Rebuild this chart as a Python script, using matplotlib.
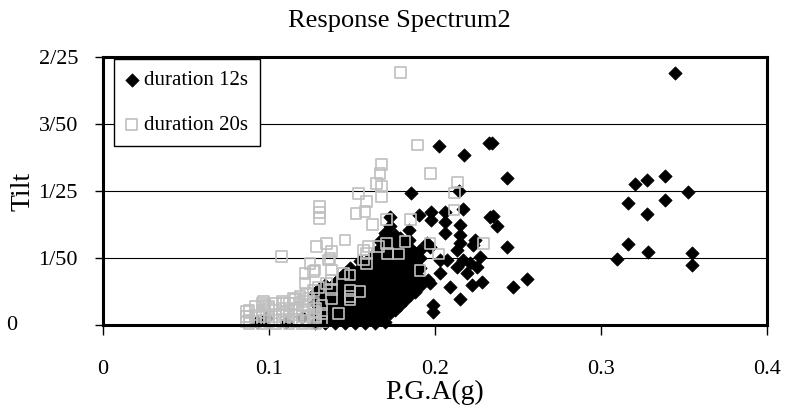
import matplotlib
matplotlib.use('Agg')
import matplotlib.pyplot as plt

plt.rcParams['font.family'] = ['Liberation Serif', 'DejaVu Serif']

# ---- duration 12s (black diamonds) ----
# isolated points at high P.G.A.
pga_12s_far = [0.3446, 0.3205, 0.3275, 0.3386, 0.3526, 0.3165, 0.3386, 0.3275,
               0.3165, 0.3285, 0.3094, 0.3546, 0.3546]
tilt_12s_far = [0.0753, 0.0421, 0.0433, 0.0446, 0.0396, 0.0365, 0.0373, 0.0331,
                0.0242, 0.0219, 0.0197, 0.0214, 0.0179]

# scattered points around 0.17 - 0.26 g
pga_12s_mid = [0.2341, 0.2436, 0.2347, 0.2375, 0.2436, 0.2556, 0.2470,
               0.2026, 0.2177, 0.2325, 0.1853, 0.2147,
               0.1729, 0.1906, 0.1974, 0.1974, 0.2060, 0.2171, 0.2331,
               0.2060, 0.2060, 0.2150, 0.2150, 0.2150, 0.1845, 0.1845, 0.1950, 0.2241,
               0.1990, 0.1990, 0.2150, 0.2281, 0.2220, 0.2090, 0.1960, 0.2030,
               0.2070, 0.2170, 0.2250, 0.2271, 0.2190,
               0.1970, 0.2130, 0.2229, 0.2130, 0.2211, 0.1970, 0.1729, 0.1760, 0.2030,
               0.0930, 0.0980, 0.1100, 0.1200]
tilt_12s_mid = [0.0542, 0.0440, 0.0326, 0.0296, 0.0234, 0.0136, 0.0113,
                0.0535, 0.0507, 0.0542, 0.0393, 0.0401,
                0.0321, 0.0328, 0.0338, 0.0312, 0.0338, 0.0345, 0.0321,
                0.0306, 0.0275, 0.0300, 0.0270, 0.0245, 0.0284, 0.0254, 0.0244, 0.0254,
                0.0060, 0.0040, 0.0077, 0.0129, 0.0119, 0.0114, 0.0134, 0.0154,
                0.0194, 0.0194, 0.0174, 0.0204, 0.0154,
                0.0234, 0.0224, 0.0239, 0.0174, 0.0184, 0.0124, 0.0295, 0.0270, 0.0194,
                0.0010, 0.0020, 0.0010, 0.0025]

# dense wedge 0.128 - 0.191 g, one tilt list per P.G.A. column
pga_12s_cols = [0.128, 0.131, 0.134, 0.137, 0.140, 0.143, 0.146, 0.149,
                0.152, 0.155, 0.158, 0.161, 0.164, 0.167, 0.170, 0.173,
                0.176, 0.179, 0.182, 0.185, 0.188, 0.191]
tilt_12s_cols = [
    [0.0005, 0.0035, 0.0065, 0.0095],
    [0.0020, 0.0050, 0.0080, 0.0110],
    [0.0005, 0.0035, 0.0065, 0.0095, 0.0120],
    [0.0020, 0.0050, 0.0080, 0.0110],
    [0.0005, 0.0035, 0.0065, 0.0095, 0.0125],
    [0.0020, 0.0050, 0.0080, 0.0110, 0.0140],
    [0.0005, 0.0035, 0.0065, 0.0095, 0.0125, 0.0155],
    [0.0020, 0.0050, 0.0080, 0.0110, 0.0140, 0.0170],
    [0.0005, 0.0035, 0.0065, 0.0095, 0.0125, 0.0155],
    [0.0020, 0.0050, 0.0080, 0.0110, 0.0140, 0.0170, 0.0190],
    [0.0005, 0.0035, 0.0065, 0.0095, 0.0125, 0.0155, 0.0185],
    [0.0020, 0.0050, 0.0080, 0.0110, 0.0140, 0.0170, 0.0200],
    [0.0005, 0.0035, 0.0065, 0.0095, 0.0125, 0.0155, 0.0185, 0.0215],
    [0.0020, 0.0050, 0.0080, 0.0110, 0.0140, 0.0170, 0.0200, 0.0230, 0.0250],
    [0.0010, 0.0035, 0.0065, 0.0095, 0.0125, 0.0155, 0.0185, 0.0215, 0.0245, 0.0275],
    [0.0035, 0.0050, 0.0080, 0.0110, 0.0140, 0.0170, 0.0200, 0.0230, 0.0260],
    [0.0045, 0.0065, 0.0095, 0.0125, 0.0155, 0.0185, 0.0215, 0.0245],
    [0.0060, 0.0080, 0.0110, 0.0140, 0.0170, 0.0200, 0.0230, 0.0260],
    [0.0075, 0.0095, 0.0125, 0.0155, 0.0185, 0.0215, 0.0240],
    [0.0090, 0.0110, 0.0140, 0.0170, 0.0200, 0.0230],
    [0.0100, 0.0125, 0.0155, 0.0185, 0.0215],
    [0.0115, 0.0140, 0.0170, 0.0200, 0.0225],
]

# ---- duration 20s (grey open squares) ----
pga_20s_sparse = [0.1793, 0.1894, 0.1974, 0.2136, 0.2117, 0.2114, 0.1709, 0.1853,
                  0.1709, 0.1819, 0.1970, 0.2291, 0.1910, 0.1779, 0.2020, 0.1715,
                  0.1679, 0.1669, 0.1649, 0.1679, 0.1538, 0.1679, 0.1588, 0.1578,
                  0.1524, 0.1625, 0.1458, 0.1598, 0.1303, 0.1303, 0.1303, 0.1076,
                  0.1287, 0.1347, 0.1377, 0.1367, 0.1247, 0.1217, 0.1277, 0.1217,
                  0.1377, 0.1377, 0.1377, 0.0966, 0.0976, 0.0996, 0.1086, 0.1146,
                  0.1187, 0.1227, 0.1417, 0.0866, 0.0866, 0.0866, 0.1588, 0.1588,
                  0.1659, 0.1357, 0.1447, 0.1488, 0.1488, 0.1548, 0.1488, 0.1267,
                  0.1267, 0.1267, 0.1146, 0.1568, 0.1568, 0.1267, 0.1347, 0.1377,
                  0.1488, 0.1106, 0.1267, 0.1297]
tilt_20s_sparse = [0.0753, 0.0537, 0.0453, 0.0427, 0.0394, 0.0343, 0.0316, 0.0316,
                   0.0244, 0.0249, 0.0244, 0.0244, 0.0162, 0.0212, 0.0212, 0.0214,
                   0.0478, 0.0453, 0.0423, 0.0413, 0.0393, 0.0383, 0.0368, 0.0338,
                   0.0333, 0.0299, 0.0254, 0.0234, 0.0353, 0.0335, 0.0318, 0.0205,
                   0.0234, 0.0244, 0.0219, 0.0199, 0.0184, 0.0154, 0.0164, 0.0124,
                   0.0164, 0.0134, 0.0105, 0.0070, 0.0060, 0.0055, 0.0065, 0.0065,
                   0.0085, 0.0095, 0.0035, 0.0040, 0.0025, 0.0010, 0.0214, 0.0184,
                   0.0234, 0.0194, 0.0154, 0.0149, 0.0104, 0.0099, 0.0075, 0.0104,
                   0.0065, 0.0040, 0.0080, 0.0194, 0.0224, 0.0160, 0.0124, 0.0080,
                   0.0085, 0.0040, 0.0020, 0.0113]

# dense grey cluster 0.088 - 0.132 g, one tilt list per P.G.A. column
pga_20s_cols = [0.088, 0.092, 0.096, 0.100, 0.104, 0.108, 0.112, 0.116,
                0.120, 0.124, 0.128, 0.132]
tilt_20s_cols = [
    [0.0005, 0.0025, 0.0045],
    [0.0010, 0.0030, 0.0055],
    [0.0005, 0.0025, 0.0045, 0.0065],
    [0.0010, 0.0030, 0.0050],
    [0.0005, 0.0025, 0.0045, 0.0065],
    [0.0010, 0.0030, 0.0050, 0.0070],
    [0.0005, 0.0025, 0.0045, 0.0065],
    [0.0010, 0.0030, 0.0050, 0.0075],
    [0.0005, 0.0025, 0.0045, 0.0070],
    [0.0010, 0.0030, 0.0055, 0.0080],
    [0.0005, 0.0025, 0.0050],
    [0.0010, 0.0035, 0.0060],
]

pga_12s = [x for x, col in zip(pga_12s_cols, tilt_12s_cols) for _ in col] + pga_12s_mid + pga_12s_far
tilt_12s = [y for col in tilt_12s_cols for y in col] + tilt_12s_mid + tilt_12s_far
pga_20s = [x for x, col in zip(pga_20s_cols, tilt_20s_cols) for _ in col] + pga_20s_sparse
tilt_20s = [y for col in tilt_20s_cols for y in col] + tilt_20s_sparse

x_ticks = [0, 0.1, 0.2, 0.3, 0.4]
x_tick_labels = ['0', '0.1', '0.2', '0.3', '0.4']
y_ticks = [0, 0.02, 0.04, 0.06, 0.08]
y_tick_labels = ['', '1/50', '1/25', '3/50', '2/25']

fig = plt.figure(figsize=(7.88, 4.13), dpi=100)
ax = fig.add_axes([103 / 788, 1 - 325 / 413, 664 / 788, 268 / 413])

grey = '#BFBFBF'
ax.scatter(pga_12s, tilt_12s, marker='D', s=46, facecolor='black',
           edgecolor='black', linewidth=0.5, clip_on=False, zorder=3,
           label='duration 12s')
ax.scatter(pga_20s, tilt_20s, marker='s', s=60, facecolor='none',
           edgecolor=grey, linewidth=1.2, clip_on=False, zorder=4,
           label='duration 20s')

ax.set_xlim(0, 0.4)
ax.set_ylim(0, 0.08)
ax.set_xticks(x_ticks)
ax.set_xticklabels(x_tick_labels, fontsize=16)
ax.set_yticks(y_ticks)
ax.set_yticklabels(y_tick_labels, fontsize=16)
ax.tick_params(axis='x', direction='out', length=7, width=1, pad=18)
ax.tick_params(axis='y', direction='out', length=6, width=1, pad=12)

# zero label sits far left (Excel fraction format padding)
ax.text(-0.137, 0, '0', transform=ax.get_yaxis_transform(),
        ha='center', va='center', fontsize=16)

ax.grid(True, axis='y', color='black', linewidth=0.8)
ax.set_axisbelow(True)
for sp in ax.spines.values():
    sp.set_linewidth(2.2)
    sp.set_zorder(5)

ax.set_xlabel('P.G.A(g)', fontsize=20)
ax.xaxis.set_label_coords(0.5, -0.25)
ax.xaxis.label.set_verticalalignment('center')
ax.set_ylabel('Tilt', fontsize=20)
ax.yaxis.set_label_coords(-0.12, 0.5)
ax.yaxis.label.set_verticalalignment('center')

fig.text(0.507, 1 - 21 / 413, 'Response Spectrum2', fontsize=19,
         ha='center', va='center')

leg = ax.legend(loc='upper left', bbox_to_anchor=(0.0166, 0.9925),
                borderaxespad=0, fontsize=15, fancybox=False,
                framealpha=1, edgecolor='black', handlelength=0.6,
                handletextpad=0.3, labelspacing=1.2, borderpad=0.55,
                scatterpoints=1)
leg.get_frame().set_linewidth(1)
leg.set_zorder(6)

fig.savefig('out.png', dpi=100)
